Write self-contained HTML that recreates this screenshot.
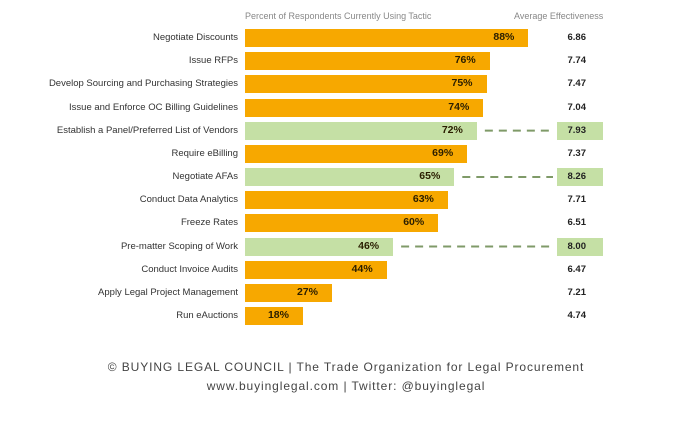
<!DOCTYPE html>
<html><head><meta charset="utf-8"><style>
body{margin:0;width:692px;height:422px;background:#fff;font-family:"Liberation Sans",sans-serif;position:relative;overflow:hidden}
.a{position:absolute;white-space:nowrap}
.lab{font-size:9.5px;color:#333;right:454px;text-align:right}
.bar{position:absolute;left:245px;height:18px}
.pct{position:absolute;font-size:10.5px;font-weight:bold;color:#2a1e00}
.eff{position:absolute;left:557px;width:46px;height:18px;font-size:9.5px;font-weight:bold;color:#222;text-align:right;line-height:18px;box-sizing:border-box;padding-right:17px}
svg{position:absolute;left:0;top:0}
</style></head><body>
<div class="a" style="left:245px;top:11px;font-size:9px;color:#888">Percent of Respondents Currently Using Tactic</div>
<div class="a" style="left:514px;top:11px;font-size:9px;color:#888">Average Effectiveness</div>
<div id="c"></div>
<div class="a" style="left:0;width:692px;text-align:center;top:360px;font-size:12px;color:#444;letter-spacing:0.9px">© BUYING LEGAL COUNCIL | The Trade Organization for Legal Procurement</div>
<div class="a" style="left:0;width:692px;text-align:center;top:379px;font-size:12px;color:#444;letter-spacing:0.9px">www.buyinglegal.com | Twitter: @buyinglegal</div>
<script>
var d=[["Negotiate Discounts",88,"6.86",0],["Issue RFPs",76,"7.74",0],["Develop Sourcing and Purchasing Strategies",75,"7.47",0],["Issue and Enforce OC Billing Guidelines",74,"7.04",0],["Establish a Panel/Preferred List of Vendors",72,"7.93",1],["Require eBilling",69,"7.37",0],["Negotiate AFAs",65,"8.26",1],["Conduct Data Analytics",63,"7.71",0],["Freeze Rates",60,"6.51",0],["Pre-matter Scoping of Work",46,"8.00",1],["Conduct Invoice Audits",44,"6.47",0],["Apply Legal Project Management",27,"7.21",0],["Run eAuctions",18,"4.74",0]];
var h="",s='<svg width="692" height="422">';d.forEach(function(r,i){var cy=38+i*23.17,t=cy-9,w=r[1]*3.22,e=245+w;
h+='<div class="a lab" style="top:'+(cy-6)+'px">'+r[0]+'</div>';
h+='<div class="bar" style="top:'+t+'px;width:'+w+'px;background:'+(r[3]?'#c5e0a5':'#f7a800')+'"></div>';
h+='<div class="pct" style="top:'+(cy-7)+'px;left:'+(e-35)+'px">'+r[1]+'%</div>';
h+='<div class="eff" style="top:'+t+'px;'+(r[3]?'background:#c5e0a5':'')+'">'+r[2]+'</div>';
if(r[3])s+='<line x1="'+(e+8)+'" y1="'+cy+'" x2="553" y2="'+cy+'" stroke="#7f9a68" stroke-width="2" stroke-dasharray="8,6"/>';});
document.getElementById("c").innerHTML=h+s+'</svg>';
</script>
</body></html>
